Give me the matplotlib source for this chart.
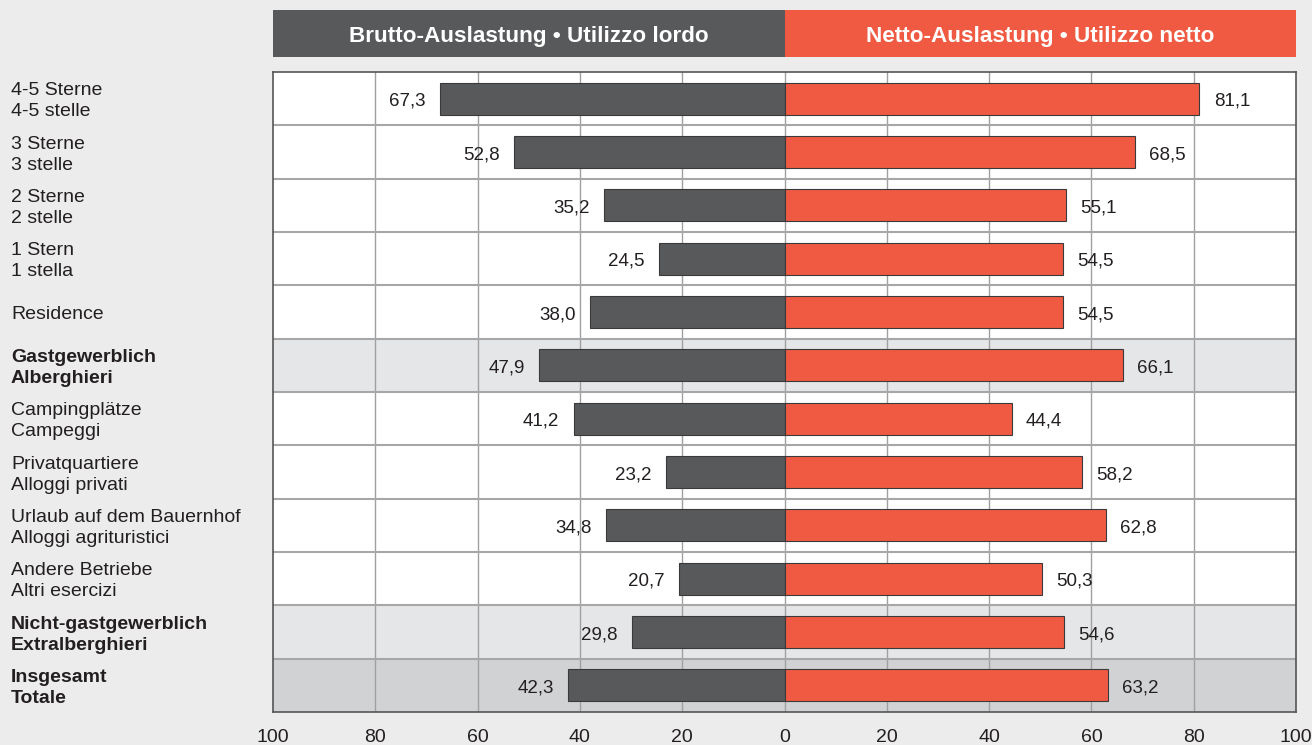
import matplotlib.pyplot as plt
from matplotlib.transforms import blended_transform_factory

plt.rcParams['font.family'] = 'sans-serif'
plt.rcParams['font.sans-serif'] = ['Liberation Sans', 'Arial', 'DejaVu Sans']

categories = [
    '4-5 Sterne\n4-5 stelle',
    '3 Sterne\n3 stelle',
    '2 Sterne\n2 stelle',
    '1 Stern\n1 stella',
    'Residence',
    'Gastgewerblich\nAlberghieri',
    'Campingplätze\nCampeggi',
    'Privatquartiere\nAlloggi privati',
    'Urlaub auf dem Bauernhof\nAlloggi agrituristici',
    'Andere Betriebe\nAltri esercizi',
    'Nicht-gastgewerblich\nExtralberghieri',
    'Insgesamt\nTotale',
]
brutto = [67.3, 52.8, 35.2, 24.5, 38.0, 47.9, 41.2, 23.2, 34.8, 20.7, 29.8, 42.3]
netto = [81.1, 68.5, 55.1, 54.5, 54.5, 66.1, 44.4, 58.2, 62.8, 50.3, 54.6, 63.2]
bold_rows = [5, 10, 11]
row_shade = {5: '#e5e6e7', 10: '#e5e6e7', 11: '#d1d2d4'}

bg = '#ebeceb'
dark = '#58595b'
red = '#f15a42'
txt = '#231f20'

fig = plt.figure(figsize=(13.12, 7.45), dpi=100, facecolor=bg)
ax = fig.add_axes([273 / 1312, 33 / 745, 1023 / 1312, 640 / 745])
ax.set_facecolor('white')

n = len(categories)
ypos = list(range(n))

for i, c in row_shade.items():
    ax.axhspan(i - 0.5, i + 0.5, color=c, zorder=0, lw=0)

for x in range(-80, 100, 20):
    ax.axvline(x, color='#a0a0a0', lw=1, zorder=1)
for i in range(n - 1):
    ax.axhline(i + 0.5, color='#a7a7a7', lw=1.5, zorder=1)

ax.barh(ypos, [-b for b in brutto], height=0.6, color=dark,
        edgecolor='#3a3a3a', lw=0.8, zorder=2)
ax.barh(ypos, netto, height=0.6, color=red,
        edgecolor='#3a3a3a', lw=0.8, zorder=2)

def fmt(v):
    return f'{v:.1f}'.replace('.', ',')

dy = 0.05  # small nudge down so text sits on the bar centre
for i in ypos:
    ax.text(-brutto[i] - 2.8, i + dy, fmt(brutto[i]), ha='right', va='center',
            fontsize=13.5, color=txt, zorder=3)
    ax.text(netto[i] + 2.8, i + dy, fmt(netto[i]), ha='left', va='center',
            fontsize=13.5, color=txt, zorder=3)

ax.set_xlim(-100, 100)
ax.set_ylim(n - 0.5, -0.5)
ticks = list(range(-100, 101, 20))
ax.set_xticks(ticks)
ax.set_xticklabels([str(abs(t)) for t in ticks], fontsize=14, color=txt)
ax.tick_params(axis='x', length=0, pad=12)
ax.set_yticks([])
for s in ax.spines.values():
    s.set_color('#555555')
    s.set_linewidth(1.2)

trans = blended_transform_factory(fig.transFigure, ax.transData)
for i, lab in enumerate(categories):
    ax.text(11 / 1312, i + dy, lab, transform=trans, ha='left', va='center',
            fontsize=14, linespacing=1.33, color=txt,
            fontweight='bold' if i in bold_rows else 'normal')

# header bars
hx = fig.add_axes([273 / 1312, (745 - 57) / 745, 1023 / 1312, 47 / 745])
hx.barh([0], [-100], height=1, color=dark, lw=0)
hx.barh([0], [100], height=1, color=red, lw=0)
hx.set_xlim(-100, 100)
hx.set_ylim(-0.5, 0.5)
hx.axis('off')
hx.text(-50, -0.07, 'Brutto-Auslastung • Utilizzo lordo', ha='center', va='center',
        color='white', fontsize=16.2, fontweight='bold')
hx.text(50, -0.07, 'Netto-Auslastung • Utilizzo netto', ha='center', va='center',
        color='white', fontsize=16.2, fontweight='bold')

fig.savefig('out.png', dpi=100, facecolor=bg)
